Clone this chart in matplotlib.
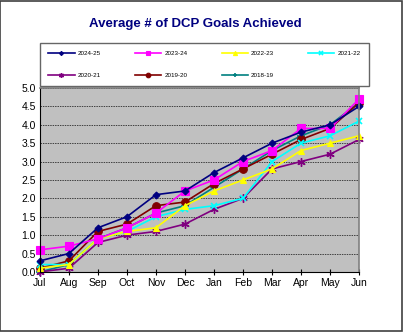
import matplotlib
matplotlib.use("Agg")
import matplotlib.pyplot as plt
from matplotlib.patches import Rectangle

months = ["Jul", "Aug", "Sep", "Oct", "Nov", "Dec", "Jan", "Feb", "Mar", "Apr", "May", "Jun"]
s2024_25 = [0.3, 0.5, 1.2, 1.5, 2.1, 2.2, 2.7, 3.1, 3.5, 3.8, 4.0, 4.5]
s2023_24 = [0.6, 0.7, 0.9, 1.2, 1.6, 2.2, 2.5, 3.0, 3.3, 3.9, 3.9, 4.7]
s2022_23 = [0.1, 0.2, 0.9, 1.1, 1.2, 1.8, 2.2, 2.5, 2.8, 3.3, 3.5, 3.7]
s2021_22 = [0.2, 0.2, 0.9, 1.1, 1.5, 1.7, 1.8, 2.0, 3.0, 3.5, 3.7, 4.1]
s2020_21 = [0.0, 0.1, 0.8, 1.0, 1.1, 1.3, 1.7, 2.0, 2.8, 3.0, 3.2, 3.6]
s2019_20 = [0.1, 0.3, 1.1, 1.3, 1.8, 1.9, 2.4, 2.8, 3.2, 3.6, 3.9, 4.6]
s2018_19 = [0.0, 0.2, 0.9, 1.2, 1.6, 1.8, 2.3, 2.8, 3.3, 3.7, 4.0, 4.6]
series_names = ["2024-25", "2023-24", "2022-23", "2021-22", "2020-21", "2019-20", "2018-19"]
series_values = [s2024_25, s2023_24, s2022_23, s2021_22, s2020_21, s2019_20, s2018_19]

styles = [
    dict(color="#000080", marker="D", ms=3.5),
    dict(color="#FF00FF", marker="s", ms=6),
    dict(color="#FFFF00", marker="^", ms=5),
    dict(color="#00FFFF", marker="x", ms=5, mew=1.2),
    dict(color="#800080", marker=(6, 2, 0), ms=6, mew=1.0),
    dict(color="#800000", marker="o", ms=5.5),
    dict(color="#008080", marker="+", ms=6, mew=1.2),
]

fig = plt.figure(figsize=(4.03, 3.32), dpi=100)
fig.patch.set_facecolor("white")
fig.patches.append(Rectangle((0.001, 0.002), 0.996, 0.995, transform=fig.transFigure,
                             fill=False, edgecolor="#404040", linewidth=1.2))

ax = fig.add_axes([0.099, 0.181, 0.792, 0.554])
ax.set_facecolor("#C0C0C0")
x = list(range(len(months)))
hmap = {}
# draw in reverse so earlier series (2024-25) is on top
for name, vals, st in reversed(list(zip(series_names, series_values, styles))):
    h, = ax.plot(x, vals, color=st["color"], marker=st["marker"], markersize=st["ms"],
                 markeredgewidth=st.get("mew", 0.8), markeredgecolor=st["color"],
                 linewidth=1.2, label=name, clip_on=False)
    hmap[name] = h

ax.set_xlim(0, len(months) - 1)
ax.set_ylim(0, 5)
ax.set_xticks(x)
ax.set_xticklabels(months, fontsize=7.5, family="Liberation Sans")
ax.set_yticks([i * 0.5 for i in range(11)])
ax.set_yticklabels([f"{i*0.5:.1f}" for i in range(11)], fontsize=7.5, family="Liberation Sans")
ax.tick_params(axis="x", direction="inout", length=5, width=0.8, pad=2)
ax.tick_params(axis="y", length=0, pad=3)
ax.yaxis.grid(True, color="#404040", linestyle=(0, (1.5, 1)), linewidth=0.7)
ax.set_axisbelow(True)
for side in ["top", "right"]:
    ax.spines[side].set_color("#808080")
    ax.spines[side].set_linewidth(1.2)
for side in ["left", "bottom"]:
    ax.spines[side].set_color("#000000")
    ax.spines[side].set_linewidth(0.8)

fig.text(0.485, 0.928, "Average # of DCP Goals Achieved", ha="center", va="center",
         fontsize=9.5, fontweight="bold", color="#000080", family="Liberation Sans")

# row-wise legend order (matplotlib fills columns first)
leg_order = ["2024-25", "2020-21", "2023-24", "2019-20", "2022-23", "2018-19", "2021-22"]
leg = fig.legend(handles=[hmap[n] for n in leg_order], loc="center",
                 bbox_to_anchor=(0.092, 0.741, 0.831, 0.129),
                 ncol=4, mode="expand", frameon=True, fancybox=False,
                 edgecolor="#404040", handlelength=4.2, handletextpad=0.5, markerscale=0.6,
                 borderpad=1.3, labelspacing=2.6, columnspacing=1.0,
                 prop=dict(family="Liberation Sans", size=4.5))
leg.get_frame().set_linewidth(1.0)

fig.savefig("out.png", dpi=100)
